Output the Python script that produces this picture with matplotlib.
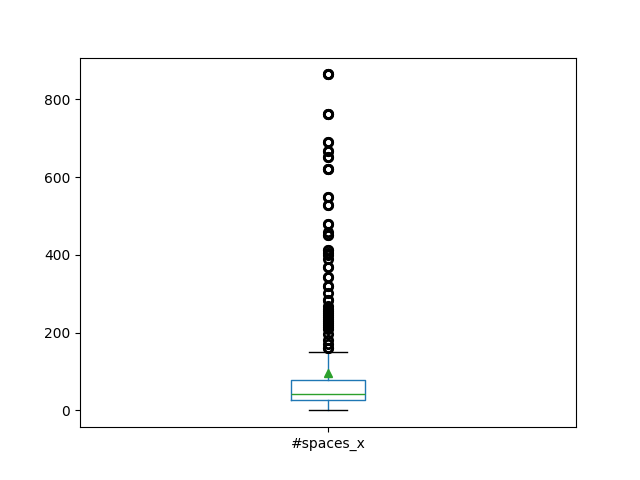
import matplotlib
matplotlib.use('Agg')
import matplotlib.pyplot as plt

# box statistics
label = '#spaces_x'
q1 = 28
median = 43
q3 = 78
whisker_low = 0
whisker_high = 151
mean = 95
fliers = [864, 864, 864, 763, 763, 763, 690, 690, 668, 668, 652, 652, 620, 620,
          620, 549, 549, 528, 528, 480, 480, 460, 450, 450, 413, 413, 405, 400,
          390, 370, 370, 342, 342, 320, 320, 303, 285, 285, 268, 262, 256, 250,
          245, 240, 235, 230, 225, 220, 215, 210, 196, 182, 170, 160, 160]

stats = [{'label': label, 'q1': q1, 'med': median, 'q3': q3,
          'whislo': whisker_low, 'whishi': whisker_high,
          'mean': mean, 'fliers': fliers}]

fig, ax = plt.subplots(figsize=(6.4, 4.8), dpi=100)
ax.bxp(stats, positions=[1], widths=0.15, showmeans=True,
       boxprops=dict(color='C0'), whiskerprops=dict(color='C0'),
       medianprops=dict(color='C2'), capprops=dict(color='k'),
       flierprops=dict(markeredgewidth=2))
ax.set_xlim(0.5, 1.5)
ax.set_xticks([1])
ax.set_xticklabels([label])

plt.savefig('out.png', dpi=100)
